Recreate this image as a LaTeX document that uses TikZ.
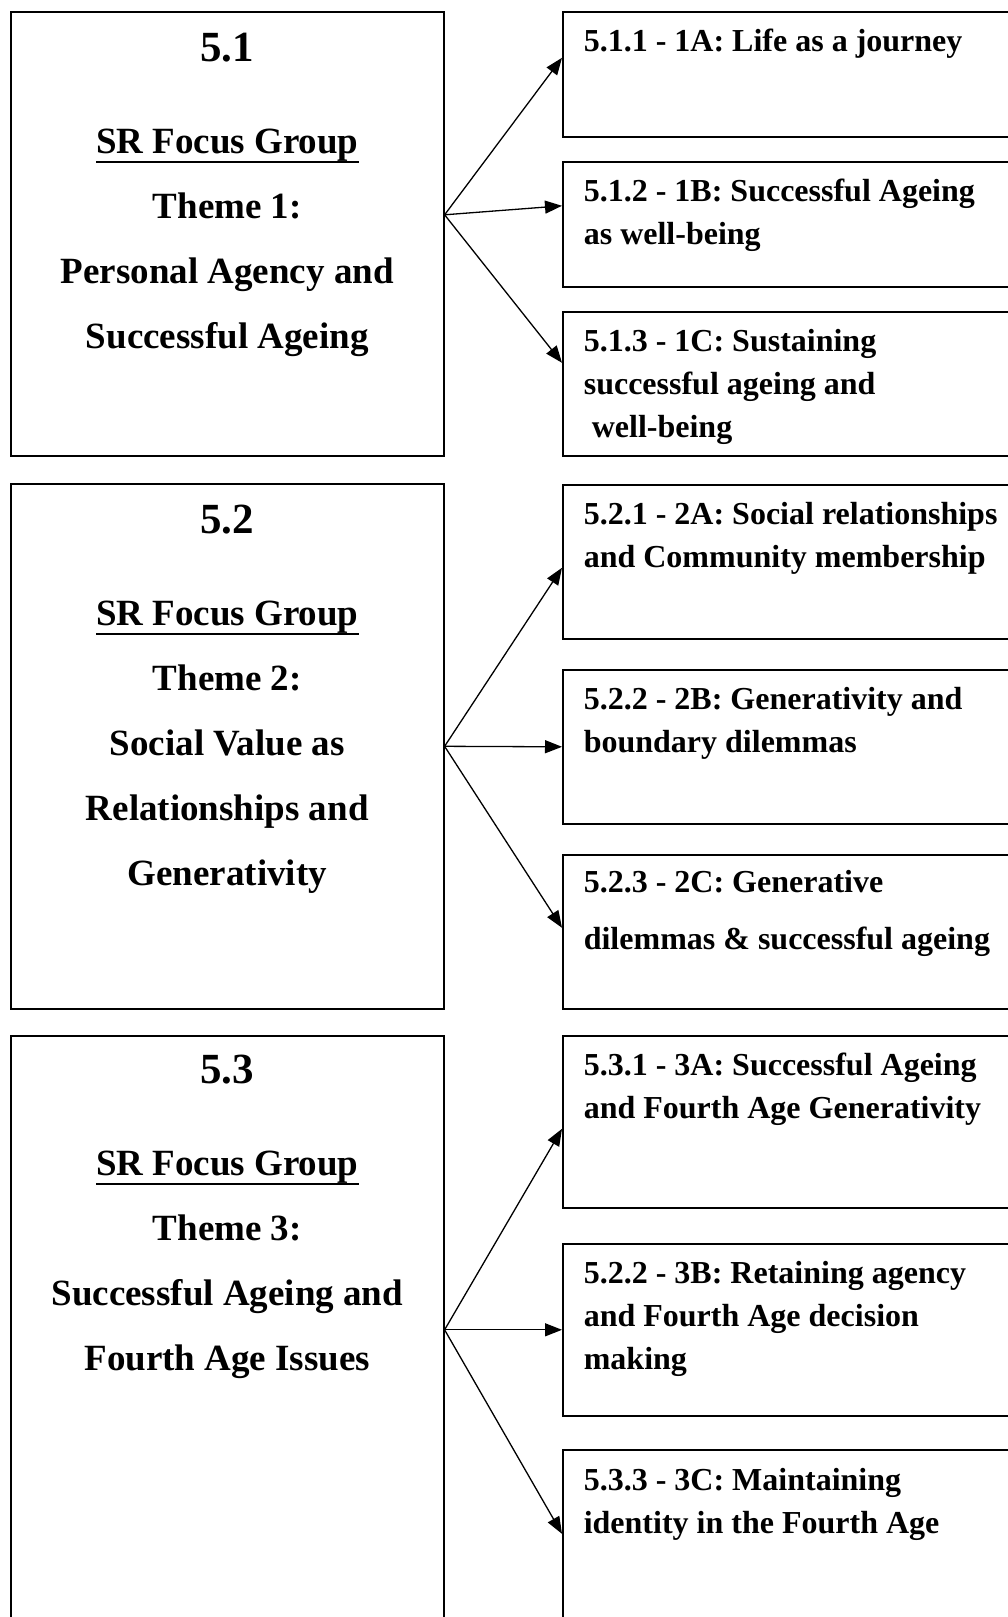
\documentclass[tikz,border=0pt]{standalone}
\usepackage{fontspec}
\setmainfont{Liberation Serif}
\usetikzlibrary{arrows.meta, positioning}

\newcommand{\numfont}{\fontsize{43}{50}\selectfont\bfseries}
\newcommand{\themefont}{\fontsize{37}{65}\selectfont\bfseries}
\newcommand{\subfont}{\fontsize{32}{43}\selectfont\bfseries}
\newcommand{\grpline}[1]{\leavevmode\setbox0\hbox{#1}\rlap{\rule[-9.5pt]{\wd0}{2.5pt}}\box0}

\tikzset{
  theme/.style={draw, line width=1.6pt, anchor=north west, inner sep=0pt},
  sub/.style={draw, line width=1.6pt, anchor=north west, inner xsep=21pt, inner ysep=0pt},
  link/.style={line width=1.3pt, -{Triangle[length=17pt,width=13pt]}},
}

\begin{document}
\begin{tikzpicture}[x=1pt, y=-1pt]
\useasboundingbox (0,0) rectangle (1008,1617);
\clip (0,0) rectangle (1008,1617);

% Theme 1
\node[theme] (t1) at (10,11) {\parbox[t][444pt][t]{433pt}{\centering\themefont
  \rule{0pt}{50pt}{\numfont 5.1}\\[27pt]
  \grpline{SR Focus Group}\\
  Theme 1:\\
  Personal Agency and\\
  Successful Ageing}};
\node[sub] (s11) at (562,11) {\parbox[t][125pt][t]{460pt}{\raggedright\subfont
  \rule{0pt}{40pt}5.1.1 - 1A: Life as a journey}};
\node[sub] (s12) at (562,161) {\parbox[t][125pt][t]{460pt}{\raggedright\subfont
  \rule{0pt}{40pt}5.1.2 - 1B: Successful Ageing\\
  as well-being}};
\node[sub] (s13) at (562,311) {\parbox[t][144pt][t]{460pt}{\raggedright\subfont
  \rule{0pt}{40pt}5.1.3 - 1C: Sustaining\\
  successful ageing and\\
  \hspace*{8pt}well-being}};
\coordinate (hub1) at ([yshift=19pt]t1.east);
\foreach \s/\d in {s11/16.5, s12/18.5, s13/21} {
  \draw[link] (hub1) -- ([yshift=\d pt]\s.west);
}

% Theme 2
\node[theme] (t2) at (10,483) {\parbox[t][525pt][t]{433pt}{\centering\themefont
  \rule{0pt}{50pt}{\numfont 5.2}\\[27pt]
  \grpline{SR Focus Group}\\
  Theme 2:\\
  Social Value as\\
  Relationships and\\
  Generativity}};
\node[sub] (s21) at (562,484) {\parbox[t][154pt][t]{460pt}{\raggedright\subfont
  \rule{0pt}{40pt}5.2.1 - 2A: Social relationships\\
  and Community membership}};
\node[sub] (s22) at (562,669) {\parbox[t][154pt][t]{460pt}{\raggedright\subfont
  \rule{0pt}{40pt}5.2.2 - 2B: Generativity and\\
  boundary dilemmas}};
\node[sub] (s23) at (562,854) {\parbox[t][154pt][t]{460pt}{\raggedright\subfont
  \rule{0pt}{38pt}5.2.3 - 2C: Generative\\[14pt]
  dilemmas \& successful ageing}};
\coordinate (hub2) at ([yshift=0pt]t2.east);
\foreach \s/\d in {s21/-6, s22/0, s23/4} {
  \draw[link] (hub2) -- ([yshift=\d pt]\s.west);
}

% Theme 3
\node[theme] (t3) at (10,1035) {\parbox[t][600pt][t]{433pt}{\centering\themefont
  \rule{0pt}{48pt}{\numfont 5.3}\\[27pt]
  \grpline{SR Focus Group}\\
  Theme 3:\\
  Successful Ageing and\\
  Fourth Age Issues}};
\node[sub] (s31) at (562,1035) {\parbox[t][172pt][t]{460pt}{\raggedright\subfont
  \rule{0pt}{40pt}5.3.1 - 3A: Successful Ageing\\
  and Fourth Age Generativity}};
\node[sub] (s32) at (562,1243) {\parbox[t][172pt][t]{460pt}{\raggedright\subfont
  \rule{0pt}{40pt}5.2.2 - 3B: Retaining agency\\
  and Fourth Age decision\\
  making}};
\node[sub] (s33) at (562,1449) {\parbox[t][190pt][t]{460pt}{\raggedright\subfont
  \rule{0pt}{41pt}5.3.3 - 3C: Maintaining\\
  identity in the Fourth Age}};
\coordinate (hub3) at ([yshift=6pt]t3.east);
\foreach \s/\d in {s31/-7, s32/0, s33/11} {
  \draw[link] (hub3) -- ([yshift=\d pt]\s.west);
}
\end{tikzpicture}
\end{document}
